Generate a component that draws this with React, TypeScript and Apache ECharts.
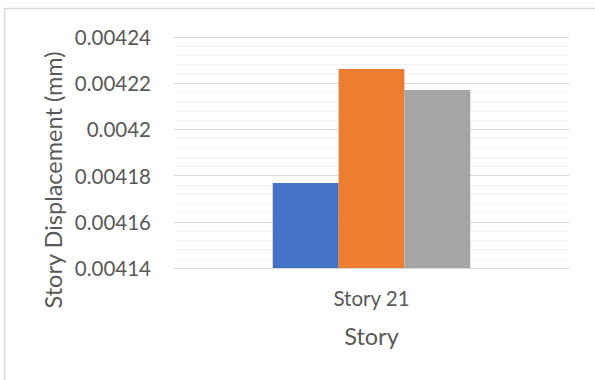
import React, { useEffect, useRef } from "react";
import * as echarts from "echarts";

// Story displacement at story 21 for three cases
const categories: string[] = ["Story 21"];
const caseA: number[] = [0.0041768];
const caseB: number[] = [0.0042261];
const caseC: number[] = [0.0042171];
const seriesNames: string[] = ["Case 1", "Case 2", "Case 3"];
const seriesColors: string[] = ["#4472C4", "#ED7D31", "#A5A5A5"];

const yMin = 0.00414;
const yMax = 0.00424;
const yStep = 0.00002;

const FONT = "Lato, 'Open Sans', sans-serif";
const TEXT = "#595959";

export default function App() {
  const ref = useRef<HTMLDivElement>(null);

  useEffect(() => {
    if (!ref.current) return;
    const chart = echarts.init(ref.current, undefined, { renderer: "svg" });
    const data = [caseA, caseB, caseC];
    chart.setOption({
      animation: false,
      backgroundColor: "#ffffff",
      grid: { left: 174, right: 26, top: 37, bottom: 112 },
      xAxis: {
        type: "category",
        data: categories,
        axisLine: { show: false },
        axisTick: { show: false },
        axisLabel: {
          color: TEXT,
          fontFamily: FONT,
          fontSize: 20.5,
          margin: 19,
        },
      },
      yAxis: {
        type: "value",
        min: yMin,
        max: yMax,
        interval: yStep,
        axisLine: { show: false },
        axisTick: { show: false },
        minorTick: { show: false, splitNumber: 5 },
        minorSplitLine: { show: true, lineStyle: { color: "#F2F2F2", width: 1 } },
        splitLine: { show: true, lineStyle: { color: "#D9D9D9", width: 1 } },
        axisLabel: {
          color: TEXT,
          fontFamily: FONT,
          fontSize: 20.5,
          margin: 23,
          formatter: (v: number) => String(Number(v.toFixed(5))),
        },
      },
      series: data.map((d, i) => ({
        name: seriesNames[i],
        type: "bar",
        data: d,
        barGap: "0%",
        barCategoryGap: "50%",
        itemStyle: { color: seriesColors[i] },
      })),
      graphic: [
        {
          type: "rect",
          shape: { x: 4.5, y: 8.5, width: 800, height: 600 },
          style: { fill: "none", stroke: "#D9D9D9", lineWidth: 1.5 },
          silent: true,
        },
        {
          type: "group",
          x: 53,
          y: 180,
          rotation: Math.PI / 2,
          children: [
            {
              type: "text",
              x: 0,
              y: 0,
              style: {
                text: "Story Displacement (mm)",
                fill: TEXT,
                font: `23.5px ${FONT}`,
                align: "center",
                verticalAlign: "middle",
              },
            },
          ],
        },
        {
          type: "text",
          x: 371.5,
          y: 336,
          style: {
            text: "Story",
            fill: TEXT,
            font: `23.5px ${FONT}`,
            align: "center",
            verticalAlign: "middle",
          },
        },
      ],
    });
    return () => chart.dispose();
  }, []);

  return (
    <div
      ref={ref}
      style={{ position: "fixed", left: 0, top: 0, width: 595, height: 380 }}
    />
  );
}
